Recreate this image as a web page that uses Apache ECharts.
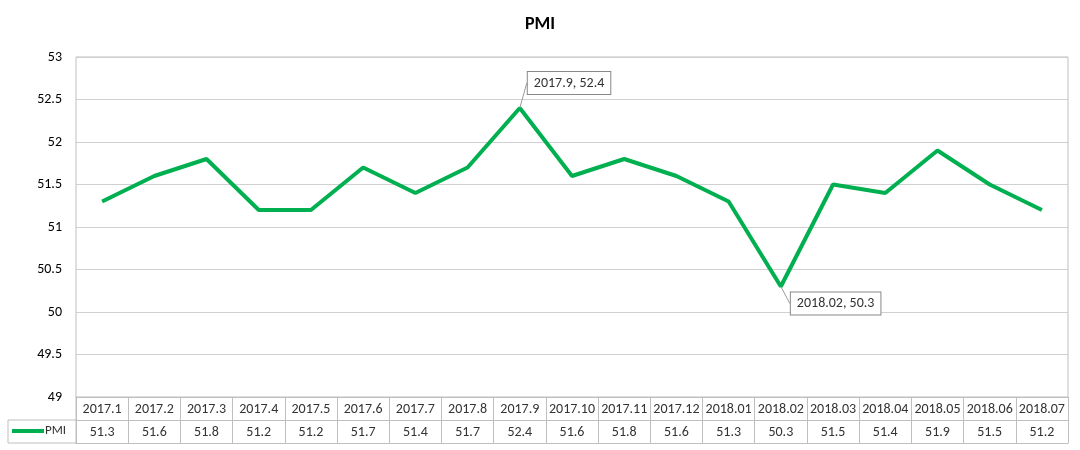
<!DOCTYPE html><html><head><meta charset="utf-8"><script src="https://cdn.jsdelivr.net/npm/echarts@6/dist/echarts.min.js"></script></head><body style="margin:0"><div id="c" style="width:1080px;height:450px"></div><script>
const categories=['2017.1','2017.2','2017.3','2017.4','2017.5','2017.6','2017.7','2017.8','2017.9','2017.10','2017.11','2017.12','2018.01','2018.02','2018.03','2018.04','2018.05','2018.06','2018.07'];
const pmi=[51.3,51.6,51.8,51.2,51.2,51.7,51.4,51.7,52.4,51.6,51.8,51.6,51.3,50.3,51.5,51.4,51.9,51.5,51.2];
const callouts={8:'2017.9, 52.4',13:'2018.02, 50.3'};
const font='Calibri, Carlito, "Liberation Sans", sans-serif';
const c=echarts.init(document.getElementById('c'));
const data=pmi.map((v,i)=>callouts[i]?{value:v,label:{show:true,formatter:callouts[i]},labelLine:{show:true,lineStyle:{color:'#999',width:1}}}:v);
const lineC='#bfbfbf';
c.setOption({
 animation:false,
 title:{text:'PMI',left:'center',top:10,textStyle:{fontSize:18,fontWeight:'bold',color:'#000',fontFamily:font}},
 grid:{left:76,right:12,top:57,bottom:53,show:true,borderColor:lineC,borderWidth:1},
 xAxis:[
  {type:'category',data:categories,boundaryGap:true,axisLine:{lineStyle:{color:lineC}},axisTick:{show:true,length:46,alignWithLabel:false,lineStyle:{color:lineC}},axisLabel:{color:'#333',fontSize:14,margin:5,fontFamily:font,interval:0}},
  {type:'category',data:pmi.map(String),position:'bottom',offset:23,boundaryGap:true,axisLine:{lineStyle:{color:lineC}},axisTick:{show:false},axisLabel:{color:'#333',fontSize:14,margin:5,fontFamily:font,interval:0}},
  {type:'category',data:categories.map(()=>''),position:'bottom',offset:46,axisLine:{lineStyle:{color:lineC}},axisTick:{show:false},axisLabel:{show:false}}
 ],
 yAxis:{type:'value',min:49,max:53,interval:0.5,axisLine:{show:false},axisTick:{show:false},splitLine:{lineStyle:{color:'#d0d0d0'}},axisLabel:{color:'#000',fontSize:14,fontFamily:font,margin:14}},
 graphic:[
  {type:'line',shape:{x1:8,y1:420,x2:76,y2:420},style:{stroke:lineC}},
  {type:'line',shape:{x1:8,y1:443,x2:76,y2:443},style:{stroke:lineC}},
  {type:'line',shape:{x1:8,y1:420,x2:8,y2:443},style:{stroke:lineC}},
  {type:'line',shape:{x1:76,y1:397,x2:76,y2:443},style:{stroke:lineC}},
  {type:'line',shape:{x1:12,y1:431,x2:44,y2:431},style:{stroke:'#00B050',lineWidth:4}},
  {type:'text',left:45,top:424,style:{text:'PMI',fontSize:13,fill:'#333',fontFamily:font}}
 ],
 series:[{type:'line',data:data,symbol:'circle',symbolSize:0,showSymbol:true,lineStyle:{color:'#00B050',width:4},itemStyle:{color:'#00B050'},
  label:{show:false,position:'right',color:'#333',fontSize:14,fontFamily:font,backgroundColor:'#fff',borderColor:'#888',borderWidth:1,padding:[4,6]},
  labelLayout:p=>p.dataIndex===8?{x:p.rect.x+8,y:p.rect.y-36}:{x:p.rect.x+10,y:p.rect.y+6}}]
});
</script></body></html>
